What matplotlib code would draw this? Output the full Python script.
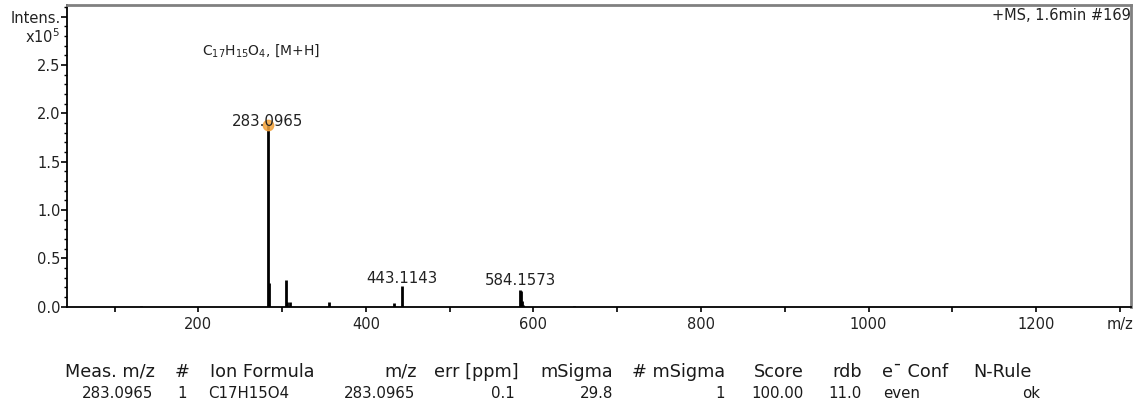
import matplotlib
matplotlib.use("Agg")
import matplotlib.pyplot as plt
import numpy as np

plt.rcParams['font.family'] = ['DejaVu Sans']

# ---- data (intensity in units of 1e5) ----
peak_mz = [131.5, 283.0965, 284.10, 305.08, 306.08, 310.0, 356.0, 434.0,
           443.1143, 584.1573, 585.16, 586.16, 587.2, 648.0]
peak_int = [0.012, 1.879, 0.24, 0.274, 0.05, 0.045, 0.045, 0.035,
            0.21, 0.17, 0.16, 0.06, 0.02, 0.01]
label_mz = [283.0965, 443.1143, 584.1573]
label_int = [1.879, 0.21, 0.17]
label_text = ["283.0965", "443.1143", "584.1573"]
label_offset_pt = [2.4, 5.5, 7.2]
marker_mz = [283.0965]
marker_int = [1.879]

x_ticks = [100, 200, 300, 400, 500, 600, 700, 800, 900, 1000, 1100, 1200, 1300]
x_ticklabels = ["", "200", "", "400", "", "600", "", "800", "", "1000", "", "1200", "m/z"]
y_ticks = [0.0, 0.5, 1.0, 1.5, 2.0, 2.5, 3.0]
y_ticklabels = ["0.0", "0.5", "1.0", "1.5", "2.0", "2.5", "Intens."]

table_headers = ["Meas. m/z", "#", "Ion Formula", "m/z", "err [ppm]", "mSigma",
                 "# mSigma", "Score", "rdb", "e\u00af Conf", "N-Rule"]
table_values = ["283.0965", "1", "C17H15O4", "283.0965", "0.1", "29.8",
                "1", "100.00", "11.0", "even", "ok"]

W, H = 1137, 405
fig = plt.figure(figsize=(W / 100, H / 100), dpi=100)
fig.patch.set_facecolor("white")

ax_l, ax_r, ax_t, ax_b = 67, 1130.7, 5, 306.7
ax = fig.add_axes([ax_l / W, (H - ax_b) / H, (ax_r - ax_l) / W, (ax_b - ax_t) / H])
ax.set_xlim(43.3, 1312.8)
ax.set_ylim(0, 3.12)

ax.vlines(peak_mz, 0, peak_int, color="black", lw=2.0)
ax.plot(marker_mz, marker_int, "o", color="#f2a23c", ms=7.5, alpha=0.85, zorder=3)
for mz, it, txt, off in zip(label_mz, label_int, label_text, label_offset_pt):
    ax.annotate(txt, (mz, it), xytext=(0, off), textcoords="offset points",
                ha="center", va="center", fontsize=10.8, color="#222222", zorder=4)

ax.text(204, 2.65, r"C$_{17}$H$_{15}$O$_4$, [M+H]", fontsize=10, color="#222222",
        ha="left", va="center", transform=ax.transData)
ax.text(1.0, 0.99, "+MS, 1.6min #169", transform=ax.transAxes, ha="right", va="top",
        fontsize=10.5, color="#222222")

ax.set_xticks(x_ticks)
ax.set_xticklabels(x_ticklabels, fontsize=10.5, color="#222222")
ax.set_yticks(y_ticks)
ax.set_yticklabels(y_ticklabels, fontsize=10.5, color="#222222")
ax.set_yticks(np.arange(0, 3.11, 0.1), minor=True)
ax.tick_params(axis="x", which="major", length=3.5, width=1.2, pad=4)
ax.tick_params(axis="y", which="major", length=4, width=1.2, pad=0.5)
ax.tick_params(axis="y", which="minor", length=2.5, width=1.0)

for s in ["left", "bottom"]:
    ax.spines[s].set_color("black")
    ax.spines[s].set_linewidth(1.3)
for s in ["top", "right"]:
    ax.spines[s].set_color("#808080")
    ax.spines[s].set_linewidth(2.0)

fig.text(60 / W, 1 - 36.7 / H, r"x10$^5$", ha="right", va="center", fontsize=10.5,
         color="#222222")

# table
hdr_y = 1 - 371.7 / H
val_y = 1 - 393.3 / H
hdr_pos = [(155, "right"), (181.7, "center"), (210, "left"), (416.7, "right"),
           (518.3, "right"), (613.3, "right"), (725, "right"), (803.3, "right"),
           (861.7, "right"), (881.7, "left"), (973.3, "left")]
val_pos = [(153.3, "right"), (181.7, "center"), (208.3, "left"), (415, "right"),
           (515, "right"), (613.3, "right"), (725, "right"), (803.3, "right"),
           (861.7, "right"), (883.3, "left"), (1040, "right")]
for txt, (x, ha) in zip(table_headers, hdr_pos):
    fig.text(x / W, hdr_y, txt, ha=ha, va="center", fontsize=12.7, color="#1a1a1a")
for txt, (x, ha) in zip(table_values, val_pos):
    fig.text(x / W, val_y, txt, ha=ha, va="center", fontsize=10.8, color="#1a1a1a")

fig.savefig("out.png", dpi=100)
